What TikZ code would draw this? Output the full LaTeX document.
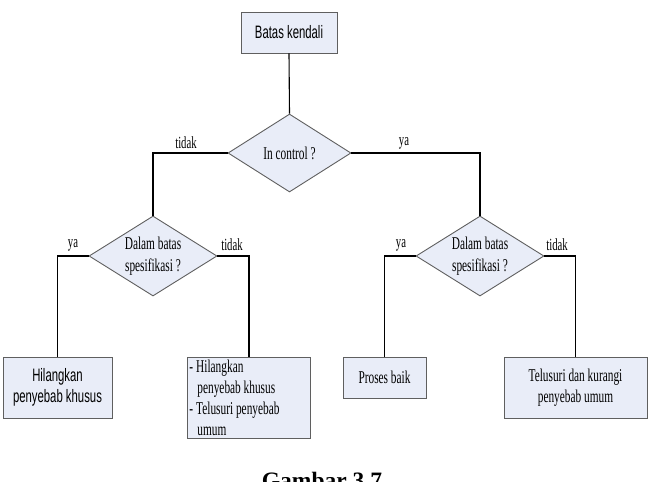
\documentclass[tikz,border=0pt]{standalone}
\usepackage{fontspec}
\setmainfont{Liberation Serif}
\newfontfamily\nserif[FakeStretch=0.63]{Liberation Serif}
\newfontfamily\nsans[FakeStretch=0.63]{Liberation Sans}
\newfontfamily\capfont{Liberation Serif}
\usetikzlibrary{shapes.geometric}
\definecolor{boxfill}{RGB}{233,237,248}
\definecolor{boxline}{RGB}{95,95,95}
\tikzset{
  base/.style={draw=boxline, fill=boxfill, line width=0.9pt},
  rectbox/.style={base, rectangle, inner sep=2pt, align=center},
  decision/.style={base, shape=diamond, aspect=1.6, inner sep=0pt, align=center,
     font=\nserif\fontsize{18}{22}\selectfont},
  conn/.style={draw=black, line width=1.1pt},
  lbl/.style={inner sep=0pt, font=\nserif\fontsize{17}{20}\selectfont},
}
\begin{document}
\begin{tikzpicture}[x=1pt,y=-1pt]
\useasboundingbox (0,0) rectangle (654,482);
\clip (0,0) rectangle (654,482);
% boxes
\node[rectbox, minimum width=96pt, minimum height=41pt, font=\nsans\fontsize{18}{21}\selectfont] (top) at (289,32.5) {Batas kendali};
\node[decision, minimum width=123pt, minimum height=78pt] (ic) at (289.5,153) {In control ?};
\node[decision, minimum width=128pt, minimum height=80pt] (ld) at (153,256) {Dalam batas\\spesifikasi ?};
\node[decision, minimum width=128pt, minimum height=80pt] (rd) at (480,256) {Dalam batas\\spesifikasi ?};
\node[rectbox, minimum width=109pt, minimum height=61pt, font=\nsans\fontsize{18}{21}\selectfont] (b1) at (57.5,387.5) {Hilangkan\\penyebab khusus};
\node[rectbox, minimum width=123pt, minimum height=81pt, align=flush left, anchor=north west, inner sep=0pt,
      text width=121pt, font=\nserif\fontsize{18}{21}\selectfont] (b2) at (187,357)
      {\hspace*{1pt}-\,Hilangkan\\\hspace*{9pt}penyebab khusus\\\hspace*{1pt}-\,Telusuri penyebab\\\hspace*{9pt}umum};
\node[rectbox, minimum width=83pt, minimum height=41pt, font=\nserif\fontsize{18}{21}\selectfont] (b3) at (384.5,377.5) {Proses baik};
\node[rectbox, minimum width=143pt, minimum height=61pt, font=\nserif\fontsize{18}{21}\selectfont] (b4) at (575.5,387.5) {Telusuri dan kurangi\\penyebab umum};
% connectors
\draw[conn] (top.south) -- (ic.north);
\draw[conn] (ic.west) -| (ld.north);
\draw[conn] (ic.east) -| (rd.north);
\draw[conn] (ld.west) -| (b1.north);
\draw[conn] (ld.east) -| (b2.north);
\draw[conn] (rd.west) -| (b3.north);
\draw[conn] (rd.east) -| (b4.north);
% labels
\node[lbl] (l1) at (186,143) {tidak};
\node[lbl] (l2) at (404,143) {ya};
\node[lbl] (l3) at (73,245) {ya};
\node[lbl] (l4) at (232,245) {tidak};
\node[lbl] (l5) at (401,245) {ya};
\node[lbl] (l6) at (557,245) {tidak};
% caption
\node[inner sep=0pt, anchor=base, font=\capfont\bfseries\fontsize{23.5}{26}\selectfont] (cap) at (322,488) {Gambar 3.7};
\end{tikzpicture}
\end{document}
